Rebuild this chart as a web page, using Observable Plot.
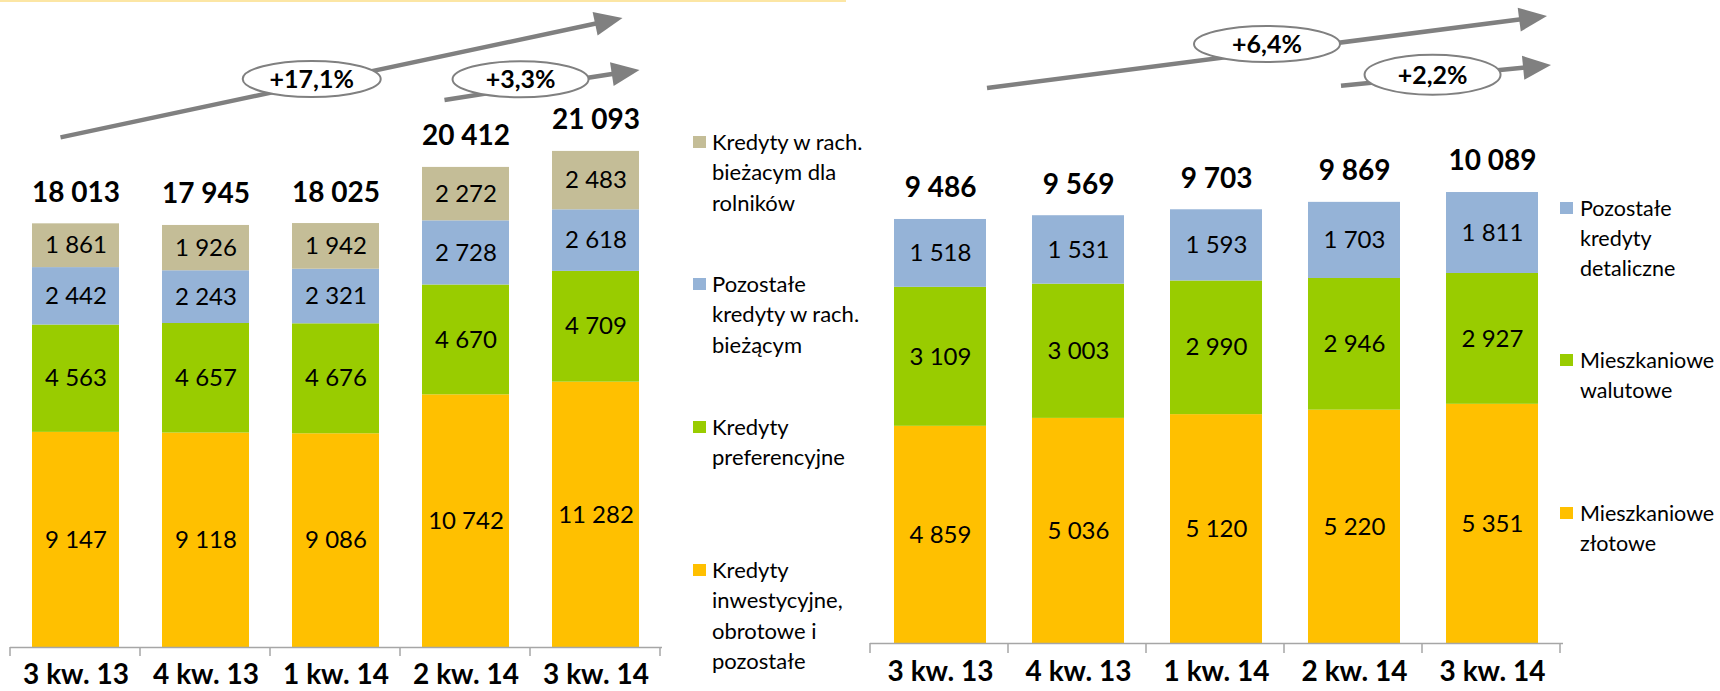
<!DOCTYPE html>
<html><head><meta charset="utf-8">
<script src="https://cdn.jsdelivr.net/npm/d3@7"></script>
<script src="https://cdn.jsdelivr.net/npm/@observablehq/plot@0.6"></script>
<style>
body{margin:0;background:#fff;}
#wrap{position:relative;width:1720px;height:691px;overflow:hidden;font-family:Lato,"Open Sans",sans-serif;}
#topline{position:absolute;left:0;top:0;width:846px;height:2px;background:#FCE6A4;}
#left{position:absolute;left:0;top:0;}
#right{position:absolute;left:860px;top:0;}
.legend{position:absolute;left:0;top:0;color:#000;z-index:2}
.item{position:absolute;white-space:nowrap}
.sw{position:absolute;width:13px;height:12px}
</style></head><body>
<div id="wrap"><div id="topline"></div><div id="left"></div><div id="right"></div></div>
<script>
// ---------- data ----------
const quarters = ["3 kw. 13", "4 kw. 13", "1 kw. 14", "2 kw. 14", "3 kw. 14"];

// left chart (bottom to top)
const seriesL = ["Kredyty inwestycyjne, obrotowe i pozostałe", "Kredyty preferencyjne", "Pozostałe kredyty w rach. bieżącym", "Kredyty w rach. bieżacym dla rolników"];
const inwestycyjne = [9147, 9118, 9086, 10742, 11282];
const preferencyjne = [4563, 4657, 4676, 4670, 4709];
const pozostaleRach = [2442, 2243, 2321, 2728, 2618];
const rolnikow = [1861, 1926, 1942, 2272, 2483];
const totalsL = [18013, 17945, 18025, 20412, 21093];
const legendLinesL = [["Kredyty w rach.", "bieżacym dla", "rolników"], ["Pozostałe", "kredyty w rach.", "bieżącym"], ["Kredyty", "preferencyjne"], ["Kredyty", "inwestycyjne,", "obrotowe i", "pozostałe"]];

// right chart (bottom to top)
const seriesR = ["Mieszkaniowe złotowe", "Mieszkaniowe walutowe", "Pozostałe kredyty detaliczne"];
const mieszkZlotowe = [4859, 5036, 5120, 5220, 5351];
const mieszkWalutowe = [3109, 3003, 2990, 2946, 2927];
const pozostaleDet = [1518, 1531, 1593, 1703, 1811];
const totalsR = [9486, 9569, 9703, 9869, 10089];
const legendLinesR = [["Pozostałe", "kredyty", "detaliczne"], ["Mieszkaniowe", "walutowe"], ["Mieszkaniowe", "złotowe"]];

// growth comparisons (from quarter index -> to quarter index)
const growthL = [[0, 4], [3, 4]];
const growthR = [[0, 4], [3, 4]];

// ---------- styles ----------
const colorsL = ["#FFC000", "#99CC00", "#95B3D7", "#C4BD97"];
const colorsR = ["#FFC000", "#99CC00", "#95B3D7"];
const FONT = "Lato, 'Open Sans', sans-serif";
const GRAY = "#808080";

const loc = d3.formatLocale({thousands: " ", grouping: [3], decimal: ",", currency: ["", ""]});
const fmt = loc.format(",d");
const pct = (a, b) => "+" + ((b / a - 1) * 100).toFixed(1).replace(".", ",") + "%";

function rowsOf(series, arrays) {
  const rows = [];
  series.forEach((s, si) => quarters.forEach((q, qi) => rows.push({q, series: s, value: arrays[si][qi]})));
  return rows;
}

// axis tick marks at band boundaries
function boundaryTicks(len) {
  return (index, {x, y}) => {
    const g = d3.create("svg:g").attr("stroke", "#A6A6A6").attr("stroke-width", 1.5);
    const [r0] = x.range();
    const step = x.step();
    const y0 = y(0);
    for (let i = 0; i <= quarters.length; i++) {
      const xx = r0 + i * step;
      g.append("line").attr("x1", xx).attr("x2", xx).attr("y1", y0).attr("y2", y0 + len);
    }
    return g.node();
  };
}

// growth arrows with ellipse labels; geometry is offset from bar centres / bar tops
function growthArrows(totals, specs, geom) {
  return (index, {x, y}) => {
    const bw = x.bandwidth();
    const cx = i => x(quarters[i]) + bw / 2;
    const top = i => y(totals[i]);
    const g = d3.create("svg:g");
    specs.forEach(([a, b], k) => {
      const G = geom[k];
      const x1 = cx(a) + G.sx, y1 = top(a) - G.sy;
      const x2 = cx(b) + G.tx, y2 = top(b) - G.ty;
      const ang = Math.atan2(y2 - y1, x2 - x1);
      const hl = 28, hw = 12;
      const bx = x2 - hl * Math.cos(ang), by = y2 - hl * Math.sin(ang);
      g.append("line").attr("x1", x1).attr("y1", y1).attr("x2", bx + 2 * Math.cos(ang)).attr("y2", by + 2 * Math.sin(ang))
        .attr("stroke", GRAY).attr("stroke-width", 4.5);
      const px = -Math.sin(ang), py = Math.cos(ang);
      g.append("polygon").attr("points", [[x2, y2], [bx + px * hw, by + py * hw], [bx - px * hw, by - py * hw]].map(p => p.join(",")).join(" "))
        .attr("fill", GRAY);
      const ex = x1 + (x2 - x1) * G.t, ey = y1 + (y2 - y1) * G.t + G.ey;
      g.append("ellipse").attr("cx", ex).attr("cy", ey).attr("rx", G.rx).attr("ry", G.ry)
        .attr("fill", "#fff").attr("stroke", GRAY).attr("stroke-width", 2);
      g.append("text").attr("x", ex).attr("y", ey).attr("dy", "0.35em").attr("text-anchor", "middle")
        .attr("font-family", FONT).attr("font-weight", "bold").attr("font-size", 25).attr("fill", "#000")
        .text(pct(totals[a], totals[b]));
    });
    return g.node();
  };
}

function makeChart({series, arrays, totals, colors, width, mLeft, mRight, base, tickEnd, k, labelDy, specs, geom}) {
  const rows = rowsOf(series, arrays);
  const height = 691;
  const yMin = -(tickEnd - base) / k;
  const yMax = base / k;
  return Plot.plot({
    width, height,
    marginLeft: mLeft, marginRight: mRight, marginTop: 0, marginBottom: height - tickEnd,
    x: {domain: quarters, paddingInner: 0.33, paddingOuter: 0.165, axis: null},
    y: {domain: [yMin, yMax], axis: null},
    color: {domain: series, range: colors},
    style: {fontFamily: FONT, background: "transparent", overflow: "visible"},
    marks: [
      Plot.barY(rows, {x: "q", y: "value", fill: "series", order: series}),
      Plot.text(rows, Plot.stackY({x: "q", y: "value", z: "series", order: series, text: d => fmt(d.value), fontSize: 24, fill: "#000"})),
      Plot.text(quarters.map((q, i) => ({q, total: totals[i]})), {x: "q", y: "total", text: d => fmt(d.total), dy: -31, fontSize: 28, fontWeight: "bold", fill: "#000"}),
      Plot.ruleY([0], {stroke: "#A6A6A6", strokeWidth: 1.5}),
      boundaryTicks(tickEnd - base),
      Plot.text(quarters, {x: d => d, y: yMin, text: d => d, dy: labelDy, lineAnchor: "top", fontSize: 28, fontWeight: "bold", fill: "#000"}),
      growthArrows(totals, specs, geom)
    ]
  });
}

const kL = 0.02352, kR = 0.0447;
document.getElementById("left").appendChild(makeChart({
  series: seriesL, arrays: [inwestycyjne, preferencyjne, pozostaleRach, rolnikow], totals: totalsL, colors: colorsL,
  width: 680, mLeft: 10, mRight: 18, base: 647, tickEnd: 656, k: kL, labelDy: 8,
  specs: growthL,
  geom: [
    {sx: -15, sy: 86, tx: 27, ty: 133, t: 0.447, ey: -5, rx: 69, ry: 18},
    {sx: -21, sy: 67, tx: 44, ty: 81, t: 0.39, ey: -9, rx: 68, ry: 18}
  ]
}));
document.getElementById("right").appendChild(makeChart({
  series: seriesR, arrays: [mieszkZlotowe, mieszkWalutowe, pozostaleDet], totals: totalsR, colors: colorsR,
  width: 705, mLeft: 10, mRight: 2, base: 643, tickEnd: 653, k: kR, labelDy: 8,
  specs: growthR,
  geom: [
    {sx: 47, sy: 131, tx: 55, ty: 176, t: 0.5, ey: -8, rx: 73, ry: 18},
    {sx: -13, sy: 116, tx: 59, ty: 127, t: 0.436, ey: -2, rx: 68, ry: 20}
  ]
}));

// legends
function legend(lines, colors, {left, textLeft, firstLines, lineH, fontSize}) {
  const div = document.createElement("div");
  div.className = "legend";
  div.style.fontSize = fontSize + "px";
  div.style.lineHeight = lineH + "px";
  lines.forEach((ls, i) => {
    const sw = document.createElement("div");
    sw.className = "sw";
    sw.style.left = left + "px";
    sw.style.top = (firstLines[i] - 6) + "px";
    sw.style.background = colors[i];
    div.appendChild(sw);
    const t = document.createElement("div");
    t.className = "item";
    t.style.left = textLeft + "px";
    t.style.top = (firstLines[i] - lineH / 2) + "px";
    t.innerHTML = ls.join("<br>");
    div.appendChild(t);
  });
  document.getElementById("wrap").appendChild(div);
}
// legend order is top-to-bottom (reverse of stacking)
legend(legendLinesL, colorsL.slice().reverse(), {left: 693, textLeft: 712, firstLines: [142, 284, 427, 570], lineH: 30.5, fontSize: 22});
legend(legendLinesR, colorsR.slice().reverse(), {left: 1560, textLeft: 1580, firstLines: [208, 360, 513], lineH: 30, fontSize: 21.5});
</script>
</body></html>
